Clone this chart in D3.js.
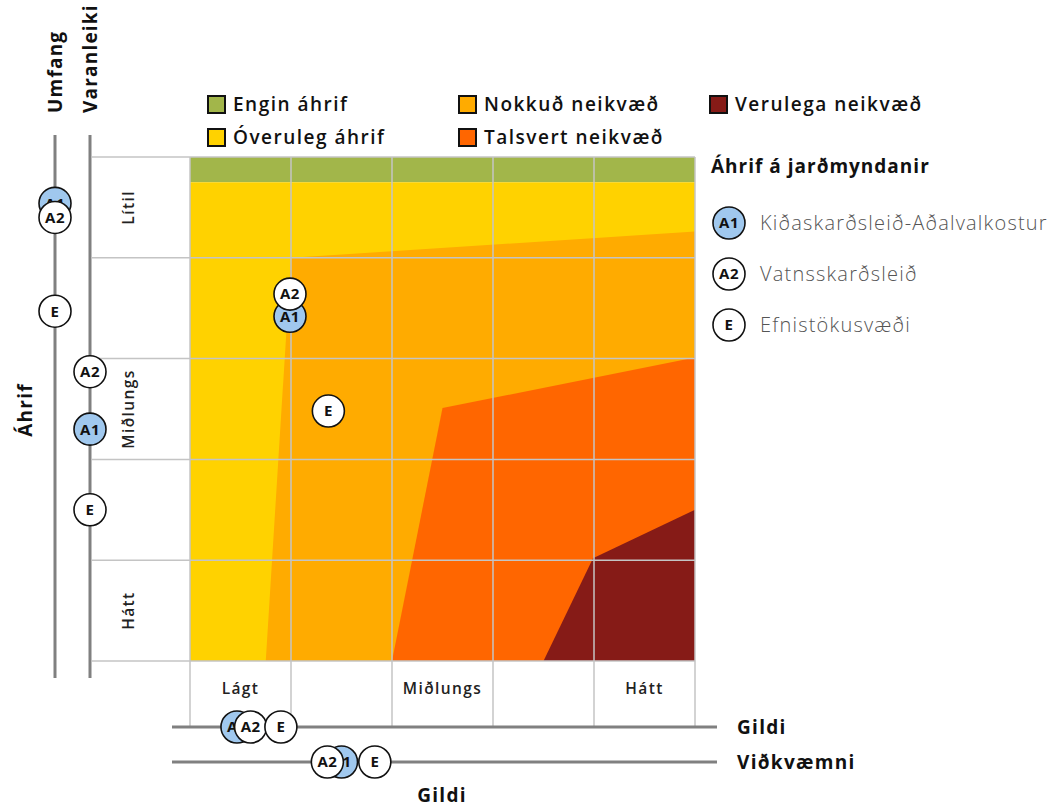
<!DOCTYPE html>
<html><head><meta charset="utf-8">
<script src="https://cdn.jsdelivr.net/npm/d3@7"></script>
<style>body{margin:0;background:#fff}svg{display:block}text{font-family:"Open Sans",sans-serif}</style>
</head><body><svg id="c" width="1052" height="807"></svg>
<script>
// ---- data ----
const levels = ["Lágt", "", "Miðlungs", "", "Hátt"];          // column labels (Gildi)
const rowLevels = ["Lítil", "", "Miðlungs", "", "Hátt"];      // row labels (Áhrif)
const legendNames = ["Engin áhrif", "Óveruleg áhrif", "Nokkuð neikvæð", "Talsvert neikvæð", "Verulega neikvæð"];
const legendColors = ["#a2b64a", "#ffd200", "#ffab00", "#ff6600", "#861b17"];
// zone polygons in grid units (x: 0..5 Gildi, y: 0..5 Áhrif downward)
const zoneGreen = [[0,0],[5,0],[5,0.25],[0,0.25]];
const zoneYellow = [[0,0.25],[5,0.25],[5,5],[0,5]];
const zoneOrange = [[1.0,1.0],[5,0.74],[5,5],[0.75,5]];
const zoneRed = [[2.5,2.49],[5,1.99],[5,5],[2.0,5]];
const zoneDark = [[3.99,3.98],[5,3.5],[5,5],[3.5,5]];
// markers
const ids = ["A1", "A2", "E"];
const names = ["Kiðaskarðsleið-Aðalvalkostur", "Vatnsskarðsleið", "Efnistökusvæði"];
const fills = ["#a0c8ee", "#ffffff", "#ffffff"];
const gildi = [0.465, 0.6, 0.9];
const vidkvaemni = [1.5, 1.36, 1.83];
const umfang = [0.46, 0.6, 1.53];
const varanleiki = [2.7, 2.13, 3.5];
const plotX = [0.99, 0.99, 1.37];
const plotY = [1.58, 1.36, 2.52];

// ---- drawing ----
const svg = d3.select("#c");
const x = d3.scaleLinear().domain([0,5]).range([190,695]);
const y = d3.scaleLinear().domain([0,5]).range([157,661]);
const line = d3.line().x(d=>x(d[0])).y(d=>y(d[1]));
const zones = [zoneGreen, zoneYellow, zoneOrange, zoneRed, zoneDark];
svg.selectAll("path.zone").data(zones).join("path").attr("class","zone")
  .attr("d", d=>line(d)+"Z").attr("fill",(d,i)=>legendColors[i]);

const gridCol = "#c4c4c4";
const ticks = d3.range(0,6);
svg.selectAll("line.h").data(ticks).join("line").attr("class","h")
  .attr("x1",92).attr("x2",x(5)).attr("y1",d=>y(d)).attr("y2",d=>y(d))
  .attr("stroke",gridCol).attr("stroke-width",1.5);
svg.selectAll("line.v").data(ticks).join("line").attr("class","v")
  .attr("x1",d=>x(d)).attr("x2",d=>x(d)).attr("y1",y(0)).attr("y2",727)
  .attr("stroke",gridCol).attr("stroke-width",1.5);

// column labels
svg.selectAll("text.col").data(levels).join("text").attr("class","col")
  .attr("x",(d,i)=>x(i+0.5)).attr("y",694).attr("text-anchor","middle")
  .attr("font-size",15.5).attr("font-weight",600).attr("letter-spacing",1.4).attr("fill","#222").text(d=>d);
// row labels
svg.selectAll("text.row").data(rowLevels).join("text").attr("class","row")
  .attr("transform",(d,i)=>`translate(134,${y(i+0.5)}) rotate(-90)`)
  .attr("text-anchor","middle").attr("font-size",15.5).attr("font-weight",600).attr("letter-spacing",1.4).attr("fill","#222").text(d=>d);

// axis lines
const axisCol = "#808080";
[[55,"Umfang"],[90,"Varanleiki"]].forEach(([ax,t])=>{
  svg.append("line").attr("x1",ax).attr("x2",ax).attr("y1",135).attr("y2",678).attr("stroke",axisCol).attr("stroke-width",3);
  svg.append("text").attr("transform",`translate(${ax+7},113) rotate(-90)`).attr("text-anchor","start")
    .attr("font-size",19).attr("font-weight",700).attr("letter-spacing",1.2).attr("fill","#111").text(t);
});
[[727,"Gildi"],[762,"Viðkvæmni"]].forEach(([ay,t])=>{
  svg.append("line").attr("x1",172).attr("x2",717).attr("y1",ay).attr("y2",ay).attr("stroke",axisCol).attr("stroke-width",3);
  svg.append("text").attr("x",737).attr("y",ay+7).attr("font-size",19).attr("font-weight",700).attr("letter-spacing",1.3).attr("fill","#111").text(t);
});
svg.append("text").attr("x",442).attr("y",802).attr("text-anchor","middle").attr("font-size",19).attr("font-weight",700).attr("letter-spacing",1.3).attr("fill","#111").text("Gildi");
svg.append("text").attr("transform","translate(32,410) rotate(-90)").attr("text-anchor","middle").attr("font-size",19).attr("font-weight",700).attr("letter-spacing",1.2).attr("fill","#111").text("Áhrif");

// marker helper
function markers(cls, xs, ys){
  const g = svg.selectAll("g."+cls).data(ids).join("g").attr("class",cls)
    .attr("transform",(d,i)=>`translate(${xs(i)},${ys(i)})`);
  g.append("circle").attr("r",16).attr("fill",(d,i)=>fills[i]).attr("stroke","#111").attr("stroke-width",1.6);
  g.append("text").attr("text-anchor","middle").attr("dy","0.36em").attr("font-size",15).attr("font-weight",700).attr("letter-spacing",0.5).attr("fill","#111").text(d=>d);
}
markers("mu", i=>55, i=>y(umfang[i]));
markers("mv", i=>90, i=>y(varanleiki[i]));
markers("mg", i=>x(gildi[i]), i=>727);
markers("mk", i=>x(vidkvaemni[i]), i=>762);
markers("mp", i=>x(plotX[i]), i=>y(plotY[i]));

// top legend
const legPos = [[208,96],[208,129],[459,96],[459,129],[710,96]];
legendNames.forEach((n,i)=>{
  const [lx,ly] = legPos[i];
  svg.append("rect").attr("x",lx).attr("y",ly).attr("width",17).attr("height",17).attr("fill",legendColors[i]).attr("stroke","#111").attr("stroke-width",2);
  svg.append("text").attr("x",lx+25).attr("y",ly+15).attr("font-size",19).attr("font-weight",600).attr("letter-spacing",1.5).attr("fill","#111").text(n);
});

// right legend
svg.append("text").attr("x",711).attr("y",173).attr("font-size",19).attr("font-weight",700).attr("letter-spacing",1).attr("fill","#111").text("Áhrif á jarðmyndanir");
const lg = svg.selectAll("g.rl").data(ids).join("g").attr("class","rl")
  .attr("transform",(d,i)=>`translate(729,${223+i*51})`);
lg.append("circle").attr("r",16).attr("fill",(d,i)=>fills[i]).attr("stroke","#111").attr("stroke-width",1.6);
lg.append("text").attr("text-anchor","middle").attr("dy","0.36em").attr("font-size",15).attr("font-weight",700).attr("letter-spacing",0.5).attr("fill","#111").text(d=>d);
lg.append("text").attr("x",31).attr("dy","0.36em").attr("font-size",20).attr("font-weight",300).attr("letter-spacing",1.2).attr("fill","#555").text((d,i)=>names[i]);
</script></body></html>
